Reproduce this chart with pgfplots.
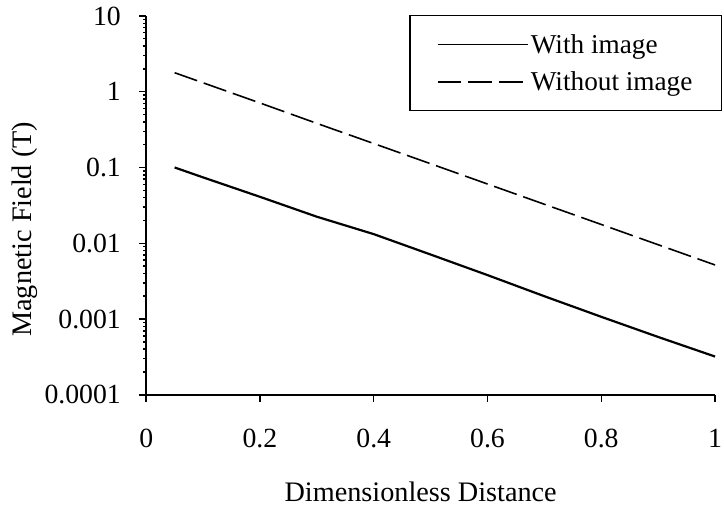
\documentclass[border=0pt]{standalone}
\usepackage{fontspec}
\setmainfont{Liberation Serif}
\usepackage{pgfplots}
\pgfplotsset{compat=1.18}
\begin{document}
\begin{tikzpicture}[x=1bp,y=1bp]
\begin{axis}[
  scale only axis,
  width=572bp, height=381bp,
  ymode=log,
  xmin=0, xmax=1, ymin=0.0001, ymax=10,
  axis x line*=bottom, axis y line*=left,
  axis line style={line width=1.8bp},
  tick align=outside,
  major tick length=7bp,
  every tick/.style={black, line width=1.5bp},
  minor tick num=0,
  ytick={0.0001,0.001,0.01,0.1,1,10},
  yticklabels={0.0001,0.001,0.01,0.1,1,10},
  xtick={0,0.2,0.4,0.6,0.8,1},
  xticklabels={0,0.2,0.4,0.6,0.8,1},
  /pgf/number format/assume math mode=true,
  ticklabel style={font=\fontsize{28}{32}\selectfont},
  xticklabel style={yshift=-24bp},
  yticklabel style={xshift=-15bp},
  xlabel={Dimensionless Distance},
  ylabel={Magnetic Field (T)},
  label style={font=\fontsize{28.5}{32}\selectfont},
  xlabel style={yshift=-27bp, xshift=-10bp},
  ylabel style={yshift=0bp, xshift=-24bp},
  legend style={at={(1.012,1.003)}, anchor=north east, draw=black, line width=1.2bp,
    font=\fontsize{27.5}{31}\selectfont, inner xsep=27bp, inner ysep=17bp,
    row sep=13bp, cells={anchor=west}},
  legend image code/.code={\draw[#1, line width=1.6bp] (0bp,0bp) -- (91bp,0bp);},
  clip=false,
]
\coordinate (bl) at (rel axis cs:0,0);
\coordinate (tr) at (rel axis cs:1,1);
\addplot[black, line width=2.2bp] coordinates {
(0.05,0.1) (0.1,0.074) (0.2,0.041) (0.3,0.0224) (0.4,0.0132) (0.5,0.0071)
(0.6,0.0038) (0.7,0.0020) (0.8,0.00107) (0.9,0.00058) (1.0,0.00032)};
\addlegendentry{With image}
\addplot[black, line width=1.6bp, dash pattern=on 24bp off 7bp] coordinates {
(0.05,1.78) (0.1,1.31) (0.2,0.71) (0.3,0.382) (0.4,0.207) (0.5,0.112)
(0.6,0.0605) (0.7,0.0327) (0.8,0.0177) (0.9,0.00956) (1.0,0.00517)};
\addlegendentry{Without image}
\end{axis}
\pgfresetboundingbox
\path ([shift={(-147bp,-113bp)}]bl) rectangle ([shift={(9bp,16bp)}]tr);
\end{tikzpicture}
\end{document}
